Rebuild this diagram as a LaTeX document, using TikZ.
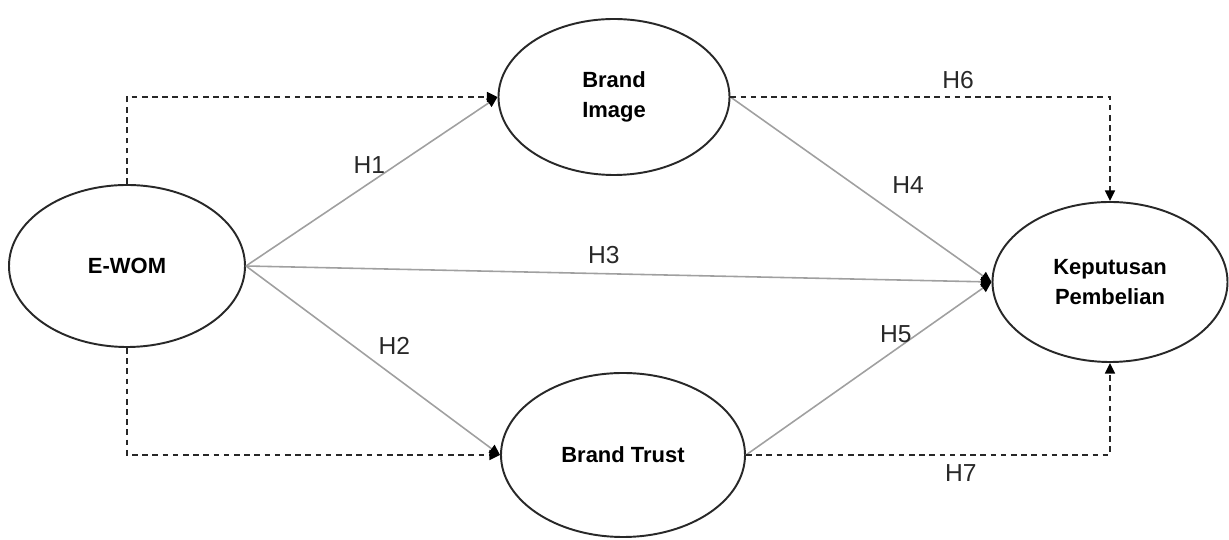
\documentclass[tikz,border=0pt]{standalone}
\usepackage{fontspec}
\setmainfont{Liberation Sans}
\usepackage{xcolor}
\definecolor{linegray}{RGB}{160,160,160}
\definecolor{darkline}{RGB}{40,40,40}
\usepackage{tikz}
\usetikzlibrary{shapes.geometric,arrows.meta,positioning}

\begin{document}
\begin{tikzpicture}[
  construct/.style={ellipse,draw=darkline,line width=1.1pt,fill=white,inner sep=0pt,
                    align=center,font=\fontsize{12.5}{17}\selectfont\bfseries},
  direct/.style={-{Triangle[length=6pt,width=5.5pt,color=black,fill=black]},linegray,line width=0.9pt},
  mediate/.style={-{Triangle[length=6pt,width=5.5pt,color=black,fill=black]},darkline,line width=1.3pt,
                  dash pattern=on 3.2pt off 2.6pt},
  hyp/.style={font=\fontsize{14}{16}\selectfont,color=darkline,inner sep=2pt},
]
\useasboundingbox (0,0) rectangle (24.58,10.8);

\node[construct,minimum width=4.72cm,minimum height=3.24cm] (ewom) at (2.54,5.48) {E-WOM};
\node[construct,minimum width=4.62cm,minimum height=3.12cm] (bi)   at (12.28,8.86) {Brand\\Image};
\node[construct,minimum width=4.88cm,minimum height=3.28cm] (bt)   at (12.46,1.70) {Brand Trust};
\node[construct,minimum width=4.70cm,minimum height=3.20cm] (kp)   at (22.20,5.16) {Keputusan\\Pembelian};

% direct paths
\draw[direct] (ewom.east) -- node[hyp,pos=0.49,above=3pt]{H1} (bi.west);
\draw[direct] (ewom.east) -- node[hyp,pos=0.50,above right=1pt]{H2} (bt.west);
\draw[direct] (ewom.east) -- node[hyp,pos=0.48,above=3pt]{H3} (kp.west);
\draw[direct] (bi.east)   -- node[hyp,pos=0.58,above right=5pt]{H4} (kp.west);
\draw[direct] (bt.east)   -- node[hyp,pos=0.61,above=1.5pt]{H5} (kp.west);

% mediation paths
\draw[mediate] (ewom.north) |- (bi.west);
\draw[mediate] (ewom.south) |- (bt.west);
\draw[mediate] (bi.east) -| node[hyp,pos=0.30,above=2pt]{H6} (kp.north);
\draw[mediate] (bt.east) -| node[hyp,pos=0.295,below=3pt]{H7} (kp.south);

\end{tikzpicture}
\end{document}
